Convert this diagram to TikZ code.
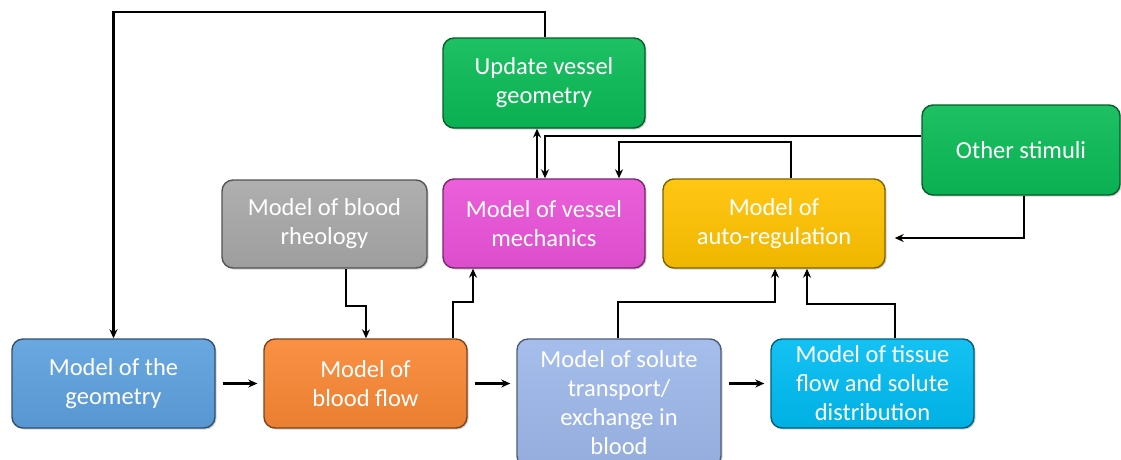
\documentclass[tikz,border=0pt]{standalone}
\usepackage{fontspec}
\setmainfont{Carlito}
\usetikzlibrary{arrows.meta,shadows}
\definecolor{cgreen}{RGB}{10,187,86}
\definecolor{cgray}{RGB}{168,168,168}
\definecolor{cmag}{RGB}{234,82,216}
\definecolor{cyel}{RGB}{255,194,0}
\definecolor{cblue}{RGB}{93,160,222}
\definecolor{corange}{RGB}{249,135,52}
\definecolor{clblue}{RGB}{158,184,234}
\definecolor{ccyan}{RGB}{0,188,242}
\tikzset{
  box/.style={rounded corners=11pt, draw=#1!50!black, line width=1.4pt,
    top color=#1!92!white, bottom color=#1!94!black,
    drop shadow={shadow xshift=1.5pt, shadow yshift=-1.5pt, opacity=0.35},
    text=white, align=center, inner sep=0pt,
    font=\fontsize{24.5}{29}\selectfont},
  arr/.style={line width=2.2pt, -{Stealth[length=9pt,width=8pt]}},
}
\begin{document}
\begin{tikzpicture}[x=1pt,y=-1pt]
\useasboundingbox (0,0) rectangle (1121,459);
\clip (0,0) rectangle (1121,459);
\fill[white] (0,0) rectangle (1121,459);

\node[box=cgreen, minimum width=202pt, minimum height=90pt] (upd) at (544,83) {Update vessel\\geometry};
\node[box=cgreen, minimum width=198pt, minimum height=90pt] (oth) at (1021,150) {Other stimuli};
\node[box=cgray, minimum width=205pt, minimum height=88pt] (rheo) at (324.5,224) {Model of blood\\rheology};
\node[box=cmag, minimum width=202pt, minimum height=89pt] (mech) at (544,223.5) {Model of vessel\\mechanics};
\node[box=cyel, minimum width=222pt, minimum height=89pt] (auto) at (774,223.5) {Model of\\auto-regulation};
\node[box=cblue, minimum width=203pt, minimum height=89pt] (geo) at (113.5,383.5) {Model of the\\geometry};
\node[box=corange, minimum width=203pt, minimum height=89pt] (flow) at (365.5,383.5) {Model of\\blood flow};
\node[box=clblue, minimum width=204pt, minimum height=128pt] (sol) at (619,403) {Model of solute\\transport/\\exchange in\\blood};
\node[box=ccyan, minimum width=203pt, minimum height=89pt] (tis) at (872.5,383.5) {Model of tissue\\flow and solute\\distribution};

% top feedback loop
\draw[arr] ([xshift=1pt]upd.north) -- ++(0,-25) -| (geo.north);
% horizontal chain
\draw[arr, shorten <=7pt, shorten >=6pt] (geo.east) -- (flow.west);
\draw[arr, shorten <=7pt, shorten >=6pt] (flow.east) -- (flow.east -| sol.west);
\draw[arr, shorten <=7pt, shorten >=6pt] (sol.east |- tis.west) -- (tis.west);
% rheology -> flow
\draw[arr] ([xshift=21.5pt]rheo.south) -- ++(0,37) -| ([xshift=0.5pt]flow.north);
% flow -> mechanics
\draw[arr] ([xshift=87.5pt]flow.north) -- ++(0,-36) -| ([xshift=-71pt]mech.south);
% mechanics -> update geometry
\draw[arr] ([xshift=-7pt]mech.north) -- ([xshift=-7pt]upd.south);
% other stimuli -> mechanics
\draw[arr] ([yshift=14pt]oth.west) -| ([xshift=1pt]mech.north);
% auto-regulation -> mechanics
\draw[arr] ([xshift=17pt]auto.north) -- ++(0,-36) -| ([xshift=75pt]mech.north);
% other stimuli -> auto-regulation
\draw[arr] ([xshift=3pt]oth.south) |- ([xshift=9pt,yshift=-14.5pt]auto.east);
% solute -> auto-regulation
\draw[arr] ([xshift=-1pt]sol.north) -- ++(0,-36) -| ([xshift=1pt]auto.south);
% tissue -> auto-regulation
\draw[arr] ([xshift=22.5pt]tis.north) -- ++(0,-34) -| ([xshift=33pt]auto.south);
\end{tikzpicture}
\end{document}
